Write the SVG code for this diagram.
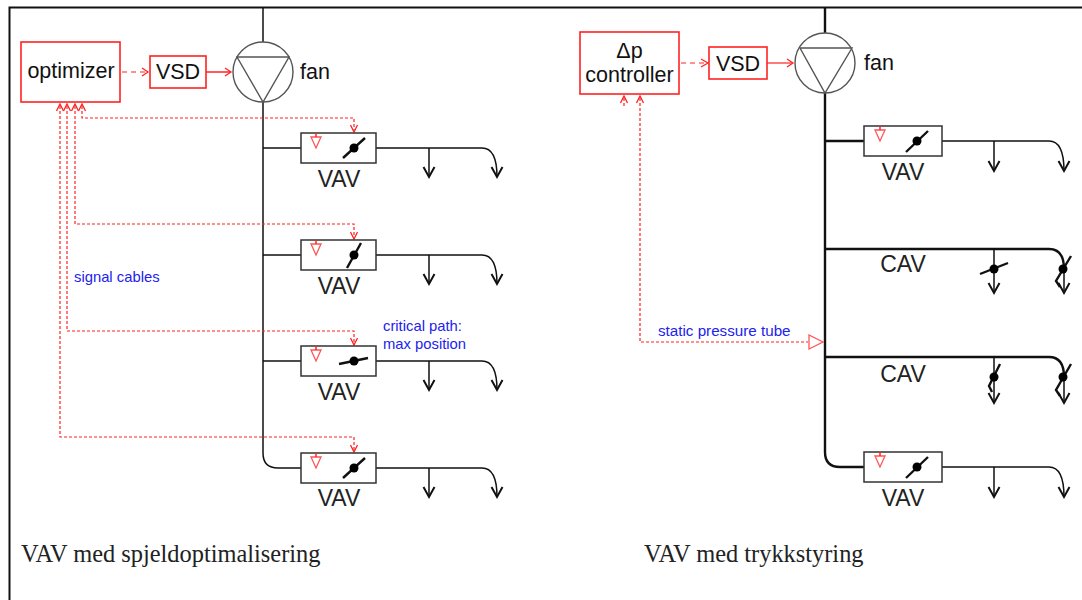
<svg xmlns="http://www.w3.org/2000/svg" width="1082" height="600" viewBox="0 0 1082 600">
<style>
text{font-family:"Liberation Sans",Arial,sans-serif;fill:#111}
.l{font-size:21.500px}.m{text-anchor:middle}
.v{font-size:23px;fill:#222}
.b{font-size:14.800px;fill:#2222ee}
.t{font-family:"Liberation Serif","Times New Roman",serif;font-size:24.400px;fill:#222}
.d{fill:none;stroke:#111;stroke-width:1.5}
.k{fill:none;stroke:#111;stroke-width:2.4}
.h{fill:none;stroke:#111;stroke-width:2}
.box{fill:#fff;stroke:#333;stroke-width:1.5}
.rb{fill:#fff;stroke:#f22;stroke-width:1.6}
.r{fill:none;stroke:#f22;stroke-width:1.2;stroke-dasharray:3 2}
.rd{fill:none;stroke:#f22;stroke-width:1.2;stroke-dasharray:5 4}
.rs{fill:none;stroke:#f22;stroke-width:1.5}
.ah{fill:none;stroke:#f22;stroke-width:1.3}
.tri{fill:#fff;stroke:#f55;stroke-width:1.3}
.fan{fill:#fff;stroke:#555;stroke-width:1.4}
.dot{fill:#000}
</style>
<defs>
<g id="drop"><path class="h" d="M-5.500-10 0 0 5.500-10"/></g>
<g id="sens"><path class="tri" d="M-5 4H5L0 15Z"/><path class="rs" d="M0 0V4"/></g>
<path id="open" class="ah" d="M-3.500 7 0 0 3.500 7"/>
<path id="tipd" class="ah" d="M-3.500-7 0 0 3.500-7"/>
</defs>
<path id="frame" d="M9.500 600V7.500H1082" fill="none" stroke="#111" stroke-width="2"/>
<g id="connectors">
<path class="d" d="M263 8V42M263 102V453Q263 468 278 468H301M263 148H301M263 255H301M263 361H301"/>
<path class="d" d="M376 148H482Q497 148 497 177M429 148V177"/>
<path class="d" d="M376 255H482Q497 255 497 284M429 255V284"/>
<path class="d" d="M376 361H482Q497 361 497 390M429 361V390"/>
<path class="d" d="M376 468H482Q497 468 497 497M429 468V497"/>
<use href="#drop" x="429" y="177"/><use href="#drop" x="497" y="177"/>
<use href="#drop" x="429" y="284"/><use href="#drop" x="497" y="284"/>
<use href="#drop" x="429" y="390"/><use href="#drop" x="497" y="390"/>
<use href="#drop" x="429" y="497"/><use href="#drop" x="497" y="497"/>
<path class="k" d="M825 8V33M825 93V452Q825 467 840 467H864M825 141H864M825 249H1049Q1064 249 1064 269M825 357H1049Q1064 357 1064 377"/>
<path class="d" d="M942 141H1049Q1064 141 1064 171M994 141V171M942 467H1049Q1064 467 1064 497M994 467V497M994 249V293M994 357V403M1064 269V293M1064 377V403"/>
<use href="#drop" x="994" y="171"/><use href="#drop" x="1064" y="171"/>
<use href="#drop" x="994" y="293"/><use href="#drop" x="1064" y="293"/>
<use href="#drop" x="994" y="403"/><use href="#drop" x="1064" y="403"/>
<use href="#drop" x="994" y="497"/><use href="#drop" x="1064" y="497"/>
<path class="r" d="M82 106V118H354V130"/>
<path class="r" d="M75 106V224H354V237"/>
<path class="r" d="M67 106V331H354V343"/>
<path class="r" d="M60 106V437H354V450"/>
<use href="#open" x="82" y="104"/><use href="#open" x="75" y="104"/><use href="#open" x="67" y="104"/><use href="#open" x="60" y="104"/>
<use href="#tipd" x="354" y="132"/><use href="#tipd" x="354" y="239"/><use href="#tipd" x="354" y="345"/><use href="#tipd" x="354" y="452"/>
<path class="rd" d="M122 72H147M681 63H706"/>
<path class="r" d="M624 98V107M640 98V342H808"/>
<use href="#open" x="624" y="96"/><use href="#open" x="640" y="96"/>
<path class="ah" d="M142 68 148 72 142 76M701 59 708 63 701 67"/>
<path class="rs" d="M206 72H230"/><path class="ah" d="M225 68 231 72 225 76"/>
<path class="rs" d="M767 63H792" style="stroke-width:1.2"/><path class="ah" d="M787 59 793 63 787 67"/>
</g>
<g id="optimizer"><rect class="rb" x="21" y="42" width="99" height="60"/><text class="l m" x="71" y="78">optimizer</text></g>
<g id="vsd1"><rect class="rb" x="150" y="56" width="56" height="32"/><text class="l m" x="178" y="79">VSD</text></g>
<g id="fan1"><circle class="fan" cx="263" cy="72" r="30"/><path class="fan" fill="none" d="M237 57H289L263 102Z"/><text class="l" x="300" y="79">fan</text></g>
<g id="vav1"><rect class="box" x="301" y="133" width="75" height="30"/><use href="#sens" x="316" y="133"/><path class="k" d="M343 158 365 138"/><circle class="dot" cx="354" cy="148" r="4.500"/><text class="v m" x="339" y="187">VAV</text></g>
<g id="vav2"><rect class="box" x="301" y="240" width="75" height="30"/><use href="#sens" x="316" y="240"/><path class="k" d="M347 268 361 243"/><circle class="dot" cx="354" cy="255" r="4.500"/><text class="v m" x="339" y="294">VAV</text></g>
<g id="vav3"><rect class="box" x="301" y="346" width="75" height="30"/><use href="#sens" x="316" y="346"/><path class="k" d="M339 364 368 358"/><circle class="dot" cx="354" cy="361" r="4.500"/><text class="v m" x="339" y="400">VAV</text></g>
<g id="vav4"><rect class="box" x="301" y="453" width="75" height="30"/><use href="#sens" x="316" y="453"/><path class="k" d="M343 478 365 458"/><circle class="dot" cx="354" cy="468" r="4.500"/><text class="v m" x="339" y="506">VAV</text></g>
<text class="b" x="74" y="282">signal cables</text>
<text class="b" x="383" y="331">critical path:</text>
<text class="b" x="383" y="349">max position</text>
<text class="t" x="21" y="562">VAV med spjeldoptimalisering</text>
<g id="controller"><rect class="rb" x="580" y="32" width="99" height="62"/><text class="l m" x="629.500" y="58">Δp</text><text class="l m" x="629.500" y="82">controller</text></g>
<g id="vsd2"><rect class="rb" x="709" y="47" width="58" height="32"/><text class="l m" x="738" y="71">VSD</text></g>
<g id="fan2"><circle class="fan" cx="825" cy="63" r="30"/><path class="fan" fill="none" d="M800 48H852L825 93Z"/><text class="l" x="864" y="70">fan</text></g>
<g id="vav5"><rect class="box" x="864" y="126" width="78" height="30"/><use href="#sens" x="880" y="126"/><path class="k" d="M906 152 928 131"/><circle class="dot" cx="917" cy="141" r="4.500"/><text class="v m" x="903" y="180">VAV</text></g>
<g id="cav1"><text class="v m" x="903" y="272">CAV</text><path class="k" d="M980 274 1008 263"/><circle class="dot" cx="994" cy="269" r="4.500"/><path class="k" d="M1071 256 1056 281 1060 287"/><circle class="dot" cx="1063" cy="269" r="4.500"/></g>
<g id="cav2"><text class="v m" x="903" y="382">CAV</text><path class="k" d="M1000 364 989 386 992 392"/><circle class="dot" cx="994" cy="377" r="4.500"/><path class="k" d="M1071 364 1056 390 1060 396"/><circle class="dot" cx="1063" cy="377" r="4.500"/></g>
<g id="vav6"><rect class="box" x="864" y="452" width="78" height="30"/><use href="#sens" x="880" y="452"/><path class="k" d="M906 478 928 457"/><circle class="dot" cx="917" cy="467" r="4.500"/><text class="v m" x="903" y="506">VAV</text></g>
<path id="tube-sensor" class="tri" d="M809 335V349L823 342Z"/>
<text class="b" x="658" y="336" style="font-size:15.200px">static pressure tube</text>
<text class="t" x="644" y="562">VAV med trykkstyring</text>
</svg>
